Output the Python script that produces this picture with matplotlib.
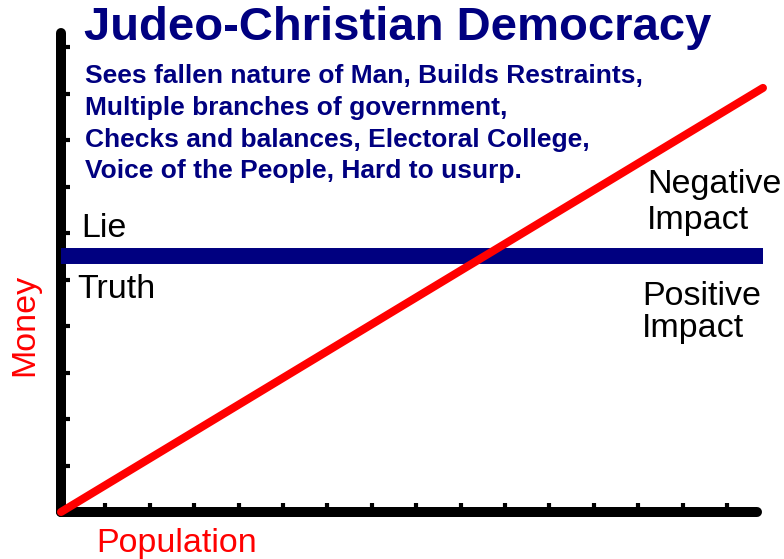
import matplotlib
matplotlib.use("Agg")
import matplotlib.pyplot as plt

# ---- data ----
population = [0.0, 15.81]
money = [0.0, 9.12]
truth_line_x = [0.0, 15.81]
truth_line_y = [5.5, 5.5]
x_ticks = list(range(1, 16))
y_ticks = list(range(1, 11))

title = "Judeo-Christian Democracy"
body_lines = [
    "Sees fallen nature of Man, Builds Restraints,",
    "Multiple branches of government,",
    "Checks and balances, Electoral College,",
    "Voice of the People, Hard to usurp.",
]

W, H = 784, 559
fig = plt.figure(figsize=(W / 100, H / 100), dpi=100)
fig.patch.set_facecolor("white")

def fx(px):
    return px / W

def fy(py):
    return 1 - py / H

ax = fig.add_axes([fx(61), fy(512), fx(757) - fx(61), fy(33) - fy(512)])
ax.set_xlim(0, (757 - 61) / 44.4)
ax.set_ylim(0, (512 - 33) / 46.5)

for s in ["top", "right"]:
    ax.spines[s].set_visible(False)
for s in ["left", "bottom"]:
    ax.spines[s].set_linewidth(7.2)
    ax.spines[s].set_color("black")
    ax.spines[s].set_capstyle("round")

ax.set_xticks(x_ticks)
ax.set_yticks(y_ticks)
ax.set_xticklabels([])
ax.set_yticklabels([])
ax.tick_params(direction="in", length=6.5, width=3, color="black")

ax.plot(truth_line_x, truth_line_y, color="#000080", lw=11.5,
        solid_capstyle="butt", clip_on=False, zorder=3)
ax.plot(population, money, color="#ff0000", lw=5.8,
        solid_capstyle="round", clip_on=False, zorder=4)

fam = ["Liberation Sans", "DejaVu Sans"]
navy = "#000080"
lab = 24.5

fig.text(fx(84), fy(40), title, fontsize=34, fontweight="bold",
         color=navy, family=fam, va="baseline", ha="left")
baselines = [83, 115, 147, 178]
for line, b in zip(body_lines, baselines):
    fig.text(fx(85), fy(b), line, fontsize=19, fontweight="bold",
             color=navy, family=fam, va="baseline", ha="left")

fig.text(fx(81), fy(237), "Lie", fontsize=lab, color="black",
         family=fam, va="baseline", ha="left")
fig.text(fx(77), fy(298), "Truth", fontsize=lab, color="black",
         family=fam, va="baseline", ha="left")

fig.text(fx(647), fy(193), "Negative", fontsize=lab, color="black",
         family=fam, va="baseline", ha="left")
fig.text(fx(647), fy(229), "Impact", fontsize=lab, color="black",
         family=fam, va="baseline", ha="left")
fig.text(fx(642), fy(305), "Positive", fontsize=lab, color="black",
         family=fam, va="baseline", ha="left")
fig.text(fx(642), fy(337), "Impact", fontsize=lab, color="black",
         family=fam, va="baseline", ha="left")

fig.text(fx(25), fy(325), "Money", fontsize=lab, color="#ff0000",
         family=fam, rotation=90, va="center", ha="center")
fig.text(fx(96), fy(552), "Population", fontsize=lab, color="#ff0000",
         family=fam, va="baseline", ha="left")

fig.savefig("out.png", dpi=100, facecolor="white")
